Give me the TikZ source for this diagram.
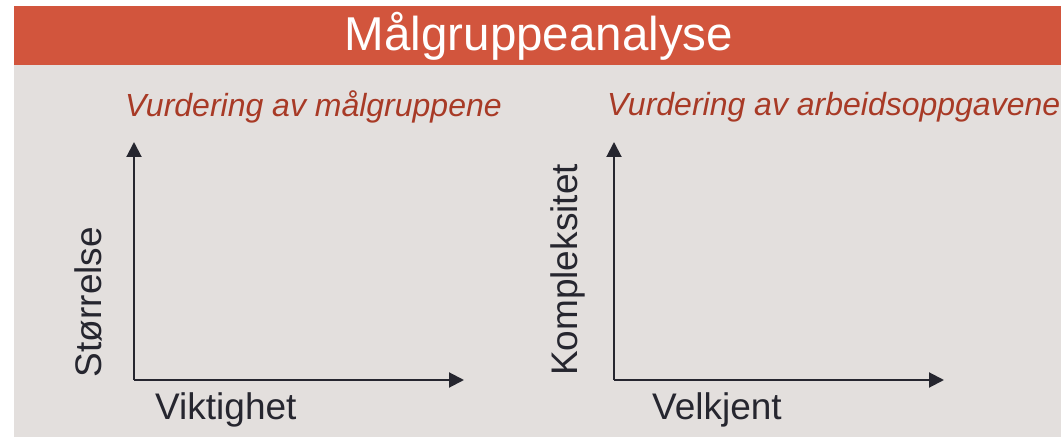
\documentclass[tikz,border=0pt]{standalone}
\usepackage{fontspec}
\setmainfont{Liberation Sans}
\usetikzlibrary{arrows.meta}
\definecolor{banner}{HTML}{D2553D}
\definecolor{panel}{HTML}{E3DFDD}
\definecolor{subred}{HTML}{A83A26}
\definecolor{ink}{HTML}{26262F}
\tikzset{
  axis/.style={draw=ink, line width=2pt, -{Triangle[width=15pt,length=15pt]}},
  axislabel/.style={text=ink, font=\fontsize{37}{40}\selectfont, inner sep=0pt},
  subtitle/.style={text=subred, font=\fontsize{32}{35}\selectfont\itshape, inner sep=0pt},
}
\begin{document}
\begin{tikzpicture}[x=1pt,y=-1pt]
  \useasboundingbox (0,0) rectangle (1061,438);
  \fill[white] (0,0) rectangle (1061,438);
  % background panel and title banner
  \fill[panel] (14,65) rectangle (1061,437);
  \fill[banner] (14,6) rectangle (1061,65);
  \node[text=white, font=\fontsize{47.5}{50}\selectfont, inner sep=0pt] (title) at (539,36) {Målgruppeanalyse};

  % left chart
  \node[subtitle, anchor=west] (sub1) at (125,107) {Vurdering av målgruppene};
  \coordinate (o1) at (134,380);
  \coordinate (y1) at (134,142);
  \coordinate (x1) at (464,380);
  \draw[axis] (o1) -- (y1);
  \draw[axis] (o1) -- (x1);
  \node[axislabel, rotate=90] (ylab1) at (88,302) {Størrelse};
  \node[axislabel, anchor=west] (xlab1) at (155,410) {Viktighet};

  % right chart
  \node[subtitle, anchor=west] (sub2) at (607,107) {Vurdering av arbeidsoppgavene};
  \coordinate (o2) at (614,380);
  \coordinate (y2) at (614,142);
  \coordinate (x2) at (944,380);
  \draw[axis] (o2) -- (y2);
  \draw[axis] (o2) -- (x2);
  \node[axislabel, rotate=90] (ylab2) at (568,270) {Kompleksitet};
  \node[axislabel, anchor=west] (xlab2) at (652,410) {Velkjent};
\end{tikzpicture}
\end{document}
